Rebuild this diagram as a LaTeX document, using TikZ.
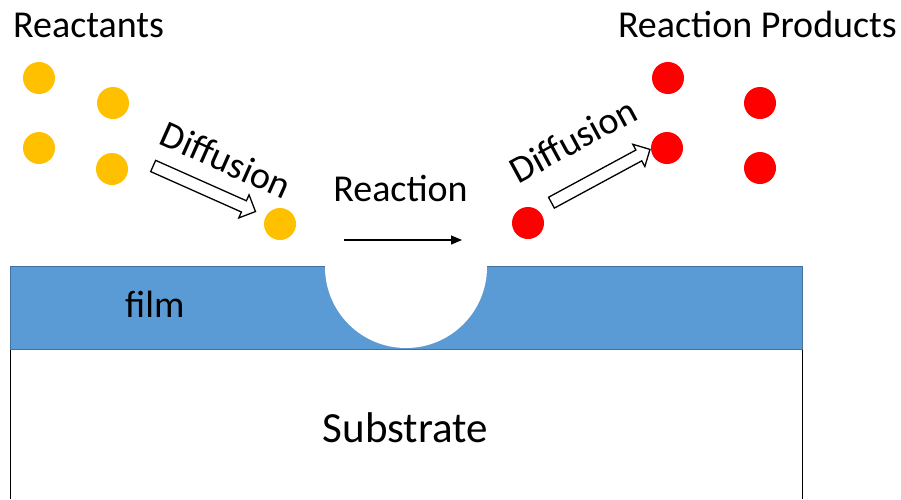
\documentclass[tikz,border=0pt]{standalone}
\usepackage{fontspec}
\setmainfont{Carlito}
\usetikzlibrary{arrows.meta,shapes.arrows}
\definecolor{filmblue}{HTML}{5B9BD5}
\definecolor{filmedge}{HTML}{41719C}
\definecolor{gold}{HTML}{FFC000}
\tikzset{lbl/.style={inner sep=0pt,font=\fontsize{38}{45}\selectfont},
  dot/.style={circle,inner sep=0pt,minimum size=32pt},
  blockarrow/.style={single arrow,draw,line width=1.3pt,inner sep=5.5pt,minimum height=112pt,single arrow head extend=6.5pt,single arrow tip angle=90}}
\begin{document}
\begin{tikzpicture}[x=1pt,y=1pt]
\useasboundingbox (0,0) rectangle (901,-499);
\fill[filmblue] (10,-266) rectangle (802,-349);\node[circle,fill=white,inner sep=0pt,minimum size=162pt] (pit) at (406,-267){};
\draw[filmedge,line width=1pt] (325,-266)--(10,-266)--(10,-349)--(802,-349)--(802,-266)--(487,-266);
\draw[line width=1pt] (10,-349.5)--(10,-499);\draw[line width=1pt] (802,-349.5)--(802,-499);
\node[lbl,anchor=base west] (film) at (125,-317){film};\node[lbl,anchor=base,font=\fontsize{43}{52}\selectfont] (substrate) at (405.5,-442){Substrate};
\node[lbl,anchor=base west] (reactants) at (13,-37){Reactants};\node[lbl,anchor=base east] (products) at (897,-37){Reaction Products};
\foreach \n/\x/\y in {1/39/78,2/113/103,3/39/148,4/112/169,5/280/224}\node[dot,fill=gold] (r\n) at (\x,-\y){};
\foreach \n/\x/\y in {1/668/78,2/760/103,3/667/148,4/760/168,5/528/223}\node[dot,fill=red] (p\n) at (\x,-\y){};
\node[blockarrow,rotate=-24] (arrl) at (201.5,-187.5){};\node[lbl,rotate=-24] (diffl) at (226,-160){Diffusion};
\node[blockarrow,rotate=28.4] (arrr) at (598,-177.5){};\node[lbl,rotate=28.4] (diffr) at (573,-140){Diffusion};
\node[lbl,anchor=base] (reaction) at (400.5,-201){Reaction};
\coordinate (ra) at (344,-240);\coordinate (rb) at (462,-240);\draw[line width=1.2pt,-{Triangle[length=11pt,width=9pt]}] (ra)--(rb);
\end{tikzpicture}
\end{document}
